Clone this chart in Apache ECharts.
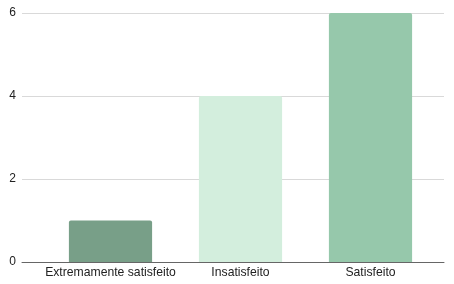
<!DOCTYPE html>
<html>
<head>
<meta charset="utf-8">
<script src="https://cdn.jsdelivr.net/npm/echarts@6/dist/echarts.min.js"></script>
<style>
  html, body { margin: 0; padding: 0; background: #fff; }
  #chart { width: 454px; height: 284px; }
</style>
</head>
<body>
<div id="chart"></div>
<script>
const categories = ['Extremamente satisfeito', 'Insatisfeito', 'Satisfeito'];
const values = [1, 4, 6];
const barColors = ['#789f88', '#d3eedd', '#96c8ab'];
const yTicks = [0, 2, 4, 6];

const chart = echarts.init(document.getElementById('chart'));
const font = 'Liberation Sans, Arial, sans-serif';

chart.setOption({
  animation: false,
  grid: [
    // grid 0: gridlines + baseline across full width
    {left: 22, right: 10, top: 13, bottom: 22},
    // grid 1: the bars, narrower category range
    {left: 45.5, right: 18.5, top: 13, bottom: 22}
  ],
  xAxis: [
    {
      gridIndex: 0, type: 'category', data: [''],
      axisLine: {show: true, lineStyle: {color: '#666', width: 1}},
      axisTick: {show: false}, axisLabel: {show: false}
    },
    {
      gridIndex: 1, type: 'category', data: categories,
      axisLine: {show: false}, axisTick: {show: false},
      axisLabel: {color: '#222', fontSize: 12.2, fontFamily: font, margin: 5, interval: 0, hideOverlap: false}
    }
  ],
  yAxis: [
    {
      gridIndex: 0, type: 'value', min: yTicks[0], max: yTicks[yTicks.length - 1], interval: 2,
      axisLine: {show: false}, axisTick: {show: false},
      axisLabel: {color: '#222', fontSize: 12, fontFamily: font, margin: 6},
      splitLine: {lineStyle: {color: '#d9d9d9', width: 1}}
    },
    {
      gridIndex: 1, type: 'value', min: yTicks[0], max: yTicks[yTicks.length - 1], interval: 2,
      show: false
    }
  ],
  series: [{
    type: 'bar',
    xAxisIndex: 1, yAxisIndex: 1,
    barWidth: '64%',
    data: values.map((v, i) => ({value: v, itemStyle: {color: barColors[i]}})),
    itemStyle: {borderRadius: [2, 2, 0, 0]},
    z: 1
  }]
});
</script>
</body>
</html>
